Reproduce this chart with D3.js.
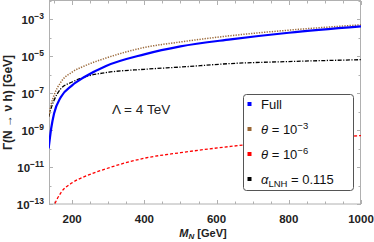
<!DOCTYPE html>
<html>
<head>
<meta charset="utf-8">
<script src="https://cdn.jsdelivr.net/npm/d3@7"></script>
<style>
  body { margin: 0; background: #fff; }
  text { font-family: "Liberation Sans", Arial, sans-serif; }
</style>
</head>
<body>
<div id="chart"></div>
<script>
// values, log10 of the width in GeV
const massFull = [135, 142, 150, 169, 200, 234, 294, 400, 500, 639, 800, 1000];
const logFull = [-9.99, -8.91, -8.10, -7.20, -6.57, -6.12, -5.52, -4.89, -4.46, -4.08, -3.72, -3.38];

const massTheta = [135, 142, 150, 169, 200, 234, 294, 400, 500, 639, 800, 1000];
const logTheta3 = [-8.28, -7.60, -7.11, -6.39, -5.85, -5.52, -5.09, -4.52, -4.22, -3.88, -3.58, -3.29];
const logTheta6 = [-14.28, -13.60, -13.11, -12.39, -11.85, -11.52, -11.09, -10.52, -10.22, -9.88, -9.58, -9.29];

const massLNH = [135, 142, 150, 169, 200, 234, 294, 400, 500, 639, 800, 1000];
const logLNH = [-8.28, -7.80, -7.38, -6.75, -6.39, -6.12, -5.88, -5.70, -5.58, -5.39, -5.28, -5.18];

const xTicks = [200, 400, 600, 800, 1000];
const yTickExps = [-13, -11, -9, -7, -5, -3];

const width = 374, height = 242;
const margin = { top: 1, right: 13, bottom: 38, left: 49 };

const svg = d3.select('#chart')
  .append('svg')
  .attr('width', width)
  .attr('height', height);

const x = d3.scaleLinear().domain([136, 1000]).range([margin.left, width - margin.right]);
const y = d3.scaleLog().domain([1e-13, 1e-2]).range([height - margin.bottom, margin.top]);

svg.append('clipPath').attr('id', 'clip')
  .append('rect')
  .attr('x', margin.left).attr('y', margin.top)
  .attr('width', width - margin.left - margin.right)
  .attr('height', height - margin.top - margin.bottom);

const frameCol = '#b0b0b0';

// ticks (inside the frame, on all four sides)
const minorX = d3.range(150, 1001, 50);
const minorY = d3.range(-13, -1, 1);
const g = svg.append('g').attr('stroke', frameCol).attr('stroke-width', 1);
minorX.forEach(v => {
  const big = xTicks.includes(v);
  const len = big ? 4 : 2.5;
  const px = Math.round(x(v)) + 0.5;
  g.append('line').attr('x1', px).attr('x2', px).attr('y1', y(1e-13)).attr('y2', y(1e-13) - len);
  g.append('line').attr('x1', px).attr('x2', px).attr('y1', y(1e-2)).attr('y2', y(1e-2) + len);
});
minorY.forEach(e => {
  const big = yTickExps.includes(e);
  const len = big ? 4 : 2.5;
  const py = Math.round(y(Math.pow(10, e))) + 0.5;
  g.append('line').attr('x1', x(136)).attr('x2', x(136) + len).attr('y1', py).attr('y2', py);
  g.append('line').attr('x1', x(1000)).attr('x2', x(1000) - len).attr('y1', py).attr('y2', py);
});

// frame
svg.append('rect')
  .attr('x', margin.left + 0.5).attr('y', margin.top - 0.5)
  .attr('width', width - margin.left - margin.right - 1)
  .attr('height', height - margin.top - margin.bottom + 0.5)
  .attr('fill', 'none').attr('stroke', frameCol).attr('stroke-width', 1);

// tick labels
svg.append('g').selectAll('text')
  .data(xTicks).enter()
  .append('text')
  .attr('x', d => x(d)).attr('y', 223)
  .attr('text-anchor', 'middle')
  .attr('font-size', 11.5).attr('font-weight', 'bold').attr('fill', '#222')
  .text(d => d);

const yl = svg.append('g').selectAll('text')
  .data(yTickExps).enter()
  .append('text')
  .attr('x', 44).attr('y', d => y(Math.pow(10, d)) + 4.5)
  .attr('text-anchor', 'end')
  .attr('font-size', 11.5).attr('font-weight', 'bold').attr('fill', '#222');
yl.append('tspan').text('10');
yl.append('tspan').attr('dy', -5).attr('font-size', 8.5).text(d => '\u2212' + Math.abs(d));

// axis titles
svg.append('text')
  .attr('transform', `translate(12, ${(margin.top + height - margin.bottom) / 2}) rotate(-90)`)
  .attr('text-anchor', 'middle')
  .attr('font-size', 12).attr('font-weight', 'bold').attr('fill', '#222')
  .text('\u0393(N \u2192 \u03bd h) [GeV]');

const xt = svg.append('text')
  .attr('x', 203).attr('y', 237)
  .attr('text-anchor', 'middle')
  .attr('font-size', 11).attr('font-weight', 'bold').attr('fill', '#222');
xt.append('tspan').attr('font-style', 'italic').text('M');
xt.append('tspan').attr('font-style', 'italic').attr('font-size', 8).attr('dy', 2).text('N');
xt.append('tspan').attr('dy', -2).text(' [GeV]');

// curves
const line = d3.line()
  .x(d => x(d[0]))
  .y(d => y(Math.pow(10, d[1])))
  .curve(d3.curveMonotoneX);

const series = [
  { m: massTheta, v: logTheta6, color: '#ff0000', w: 1.3, dash: '3,2' },
  { m: massLNH, v: logLNH, color: '#000000', w: 1.3, dash: '4,1.5,1.2,1.5' },
  { m: massTheta, v: logTheta3, color: '#9c6b3c', w: 1.5, dash: '1.3,1.3' },
  { m: massFull, v: logFull, color: '#0000ff', w: 2.2, dash: null }
];

const curves = svg.append('g').attr('clip-path', 'url(#clip)');
series.forEach(s => {
  curves.append('path')
    .datum(d3.zip(s.m, s.v))
    .attr('d', line)
    .attr('fill', 'none')
    .attr('stroke', s.color)
    .attr('stroke-width', s.w)
    .attr('stroke-dasharray', s.dash);
});

// annotation
svg.append('text')
  .attr('x', 112).attr('y', 114)
  .attr('font-size', 13.5).attr('fill', '#222')
  .text('\u039b = 4 TeV');

// legend
const legend = svg.append('g');
legend.append('rect')
  .attr('x', 243.5).attr('y', 94.5).attr('width', 110).attr('height', 96)
  .attr('rx', 3).attr('fill', '#fff').attr('stroke', '#555').attr('stroke-width', 1);

const legendRows = [
  { color: '#0000ff', y: 104 },
  { color: '#996633', y: 129 },
  { color: '#ff0000', y: 154 },
  { color: '#000000', y: 179 }
];
legendRows.forEach(r => {
  legend.append('rect')
    .attr('x', 247.5).attr('y', r.y - 2).attr('width', 4).attr('height', 4)
    .attr('fill', r.color);
});

legend.append('text').attr('x', 261).attr('y', 109).attr('font-size', 13).attr('fill', '#111').text('Full');

const t1 = legend.append('text').attr('x', 261).attr('y', 134).attr('font-size', 13).attr('fill', '#111');
t1.append('tspan').attr('font-style', 'italic').text('\u03b8');
t1.append('tspan').text(' = 10');
t1.append('tspan').attr('dy', -5).attr('font-size', 9.5).text('\u22123');

const t2 = legend.append('text').attr('x', 261).attr('y', 159).attr('font-size', 13).attr('fill', '#111');
t2.append('tspan').attr('font-style', 'italic').text('\u03b8');
t2.append('tspan').text(' = 10');
t2.append('tspan').attr('dy', -5).attr('font-size', 9.5).text('\u22126');

const t3 = legend.append('text').attr('x', 261).attr('y', 184).attr('font-size', 13).attr('fill', '#111');
t3.append('tspan').attr('font-style', 'italic').text('\u03b1');
t3.append('tspan').attr('font-size', 9.5).attr('dy', 3).text('LNH');
t3.append('tspan').attr('dy', -3).text(' = 0.115');
</script>
</body>
</html>
